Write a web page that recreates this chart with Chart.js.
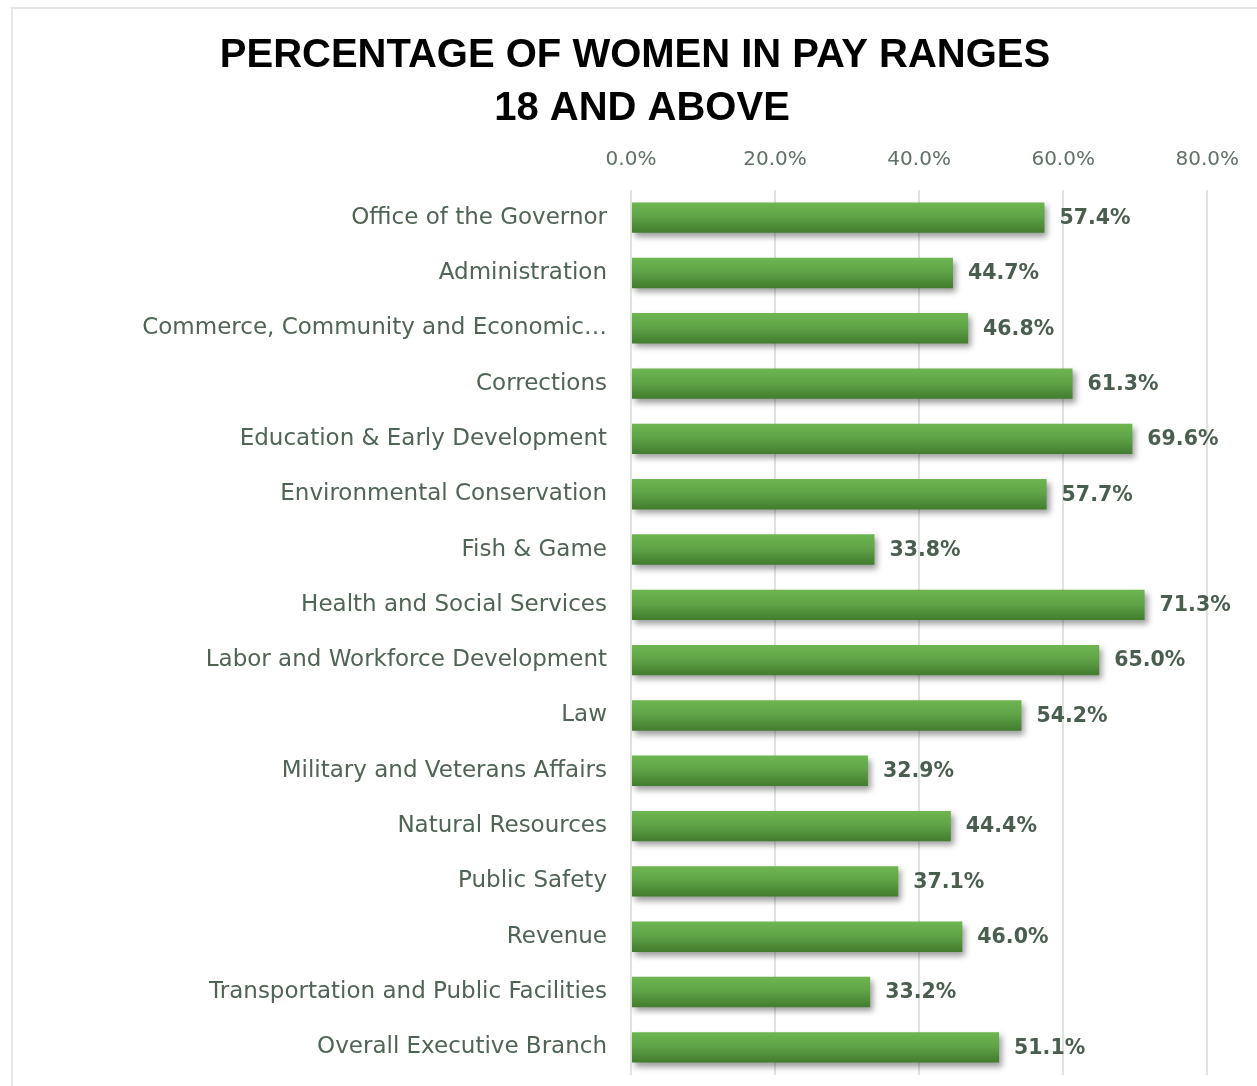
<!DOCTYPE html>
<html>
<head>
<meta charset="utf-8">
<script src="https://cdn.jsdelivr.net/npm/chart.js@4.4.0/dist/chart.umd.min.js"></script>
<style>
  html, body { margin: 0; padding: 0; background: #fff; }
  #wrap { position: relative; width: 1257px; height: 1086px; }
  #frame { position: absolute; left: 11px; top: 7px; right: 0; bottom: 0;
           border-left: 2px solid #e2e8e5; border-top: 2px solid #e2e8e5; }
  canvas { position: absolute; left: 0; top: 0; }
</style>
</head>
<body>
<div id="wrap">
  <div id="frame"></div>
  <canvas id="grafico" width="1257" height="1086"></canvas>
</div>
<script>
const titulo = ["PERCENTAGE OF WOMEN IN PAY RANGES", "18 AND ABOVE"];

const departamentos = [
  "Office of the Governor",
  "Administration",
  "Commerce, Community and Economic Development",
  "Corrections",
  "Education & Early Development",
  "Environmental Conservation",
  "Fish & Game",
  "Health and Social Services",
  "Labor and Workforce Development",
  "Law",
  "Military and Veterans Affairs",
  "Natural Resources",
  "Public Safety",
  "Revenue",
  "Transportation and Public Facilities",
  "Overall Executive Branch"
];

const porcentajes = [0.574, 0.447, 0.468, 0.613, 0.696, 0.577, 0.338, 0.713,
                     0.650, 0.542, 0.329, 0.444, 0.371, 0.460, 0.332, 0.511];

const ticksX = [0, 0.2, 0.4, 0.6, 0.8];

const fuente = "'DejaVu Sans', sans-serif";
const colorTexto = "#4f6454";

// degradado + sombra de las barras
const estiloBarras = {
  id: "estiloBarras",
  beforeDatasetsDraw(chart) {
    const ctx = chart.ctx;
    chart.getDatasetMeta(0).data.forEach(bar => {
      const top = bar.y - bar.height / 2;
      const g = ctx.createLinearGradient(0, top, 0, top + bar.height);
      g.addColorStop(0, "#6db651");
      g.addColorStop(0.45, "#60a447");
      g.addColorStop(1, "#427c2e");
      bar.options = Object.assign({}, bar.options, { backgroundColor: g });
    });
    ctx.save();
    ctx.shadowColor = "rgba(0,0,0,0.38)";
    ctx.shadowBlur = 6;
    ctx.shadowOffsetX = 3;
    ctx.shadowOffsetY = 4;
  },
  afterDatasetsDraw(chart) {
    chart.ctx.restore();
  }
};

const etiquetas = {
  id: "etiquetas",
  afterDatasetsDraw(chart) {
    const ctx = chart.ctx;
    const meta = chart.getDatasetMeta(0);
    ctx.save();
    ctx.font = "bold 20.5px " + fuente;
    ctx.fillStyle = "#4a5e4f";
    ctx.textBaseline = "middle";
    ctx.textAlign = "left";
    meta.data.forEach((bar, i) => {
      ctx.fillText((porcentajes[i] * 100).toFixed(1) + "%", bar.x + 15, bar.y + 1);
    });
    ctx.restore();
  }
};

const tituloPlugin = {
  id: "tituloPlugin",
  afterDraw(chart) {
    const ctx = chart.ctx;
    ctx.save();
    ctx.font = "bold 40px 'Liberation Sans', sans-serif";
    ctx.fillStyle = "#000";
    ctx.textAlign = "center";
    ctx.textBaseline = "middle";
    ctx.fillText(titulo[0], 635, 56);
    ctx.fillText(titulo[1], 642, 109);
    ctx.restore();
  }
};

new Chart(document.getElementById("grafico"), {
  type: "bar",
  data: {
    labels: departamentos,
    datasets: [{
      data: porcentajes,
      backgroundColor: "#60a447",
      borderWidth: 0,
      categoryPercentage: 1,
      barPercentage: 0.55
    }]
  },
  options: {
    indexAxis: "y",
    responsive: false,
    animation: false,
    layout: { padding: { left: 12, right: 16, top: 130, bottom: 11 } },
    plugins: { legend: { display: false }, tooltip: { enabled: false } },
    scales: {
      x: {
        position: "top",
        min: 0,
        max: 0.8,
        afterBuildTicks: s => { s.ticks = ticksX.map(v => ({ value: v })); },
        afterFit: s => { s.height = 60; },
        grid: { color: "#dde4e0", lineWidth: 2, drawTicks: false },
        border: { display: false },
        ticks: {
          padding: 18,
          color: "#5f7165",
          font: { family: fuente, size: 20 },
          callback: v => (v * 100).toFixed(1) + "%"
        }
      },
      y: {
        afterFit: s => { s.width = 619; s.paddingTop = 0; s.paddingBottom = 0; },
        grid: { display: false },
        border: { display: false },
        ticks: {
          padding: 16,
          color: colorTexto,
          font: { family: fuente, size: 23 },
          callback: function (v) {
            const t = this.getLabelForValue(v);
            return t.length > 40 ? t.slice(0, 32) + "\u2026" : t;
          }
        }
      }
    }
  },
  plugins: [estiloBarras, etiquetas, tituloPlugin]
});
</script>
</body>
</html>
